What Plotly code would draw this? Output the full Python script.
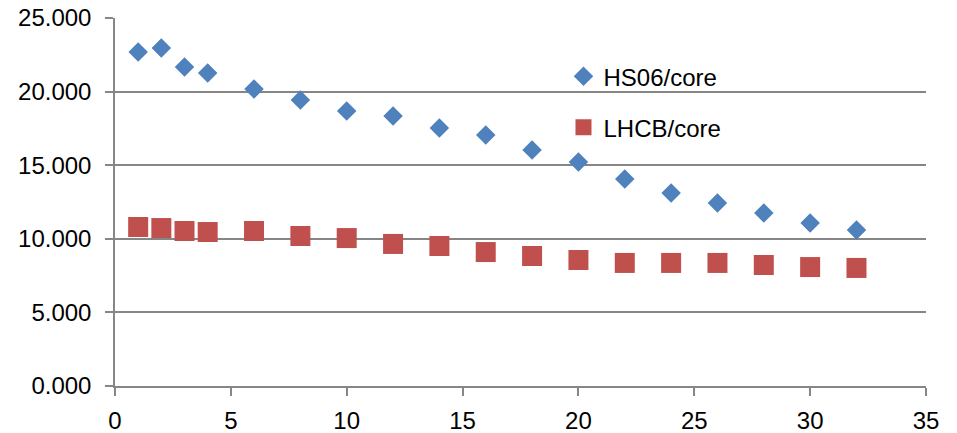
import plotly.graph_objects as go

x_vals = [1, 2, 3, 4, 6, 8, 10, 12, 14, 16, 18, 20, 22, 24, 26, 28, 30, 32]
hs06_per_core = [22.69, 22.96, 21.67, 21.26, 20.18, 19.43, 18.68, 18.34, 17.53,
                 17.05, 16.03, 15.22, 14.06, 13.11, 12.43, 11.75, 11.07, 10.60]
lhcb_per_core = [10.80, 10.73, 10.53, 10.46, 10.53, 10.19, 10.05, 9.65, 9.51,
                 9.10, 8.83, 8.56, 8.36, 8.36, 8.36, 8.22, 8.08, 8.02]
series_names = ["HS06/core", "LHCB/core"]

FONT = "Liberation Sans"
GRID = "#868686"

fig = go.Figure()
fig.add_trace(go.Scatter(x=x_vals, y=hs06_per_core, mode="markers", name=series_names[0],
                         legendgroup="a",
                         marker=dict(symbol="diamond", size=15, color="#4F81BD")))
fig.add_trace(go.Scatter(x=x_vals, y=lhcb_per_core, mode="markers", name=series_names[1],
                         legendgroup="b",
                         marker=dict(symbol="square", size=20, color="#C0504D")))

fig.update_layout(
    width=957, height=433,
    margin=dict(l=115, r=31, t=18, b=47),
    paper_bgcolor="white", plot_bgcolor="white",
    font=dict(family=FONT, size=24, color="black"),
    showlegend=True,
    legend=dict(x=0.553, y=0.902, xanchor="left", yanchor="top",
                bgcolor="rgba(0,0,0,0)", tracegroupgap=17,
                font=dict(family=FONT, size=24, color="black"),
                itemsizing="trace"),
    xaxis=dict(range=[0, 35], tick0=0, dtick=5, showgrid=False, zeroline=False,
               showline=True, linecolor=GRID, linewidth=1.5,
               ticks="outside", ticklen=8, tickcolor=GRID, tickwidth=1.5,
               ticklabelstandoff=4, automargin=False),
    yaxis=dict(range=[0, 25], tick0=0, dtick=5, tickformat=".3f",
               showgrid=True, gridcolor=GRID, gridwidth=1.5, zeroline=False,
               showline=True, linecolor=GRID, linewidth=1.5,
               ticks="outside", ticklen=8, tickcolor=GRID, tickwidth=1.5,
               ticklabelstandoff=9, automargin=False),
)

fig.write_html("out.html")
